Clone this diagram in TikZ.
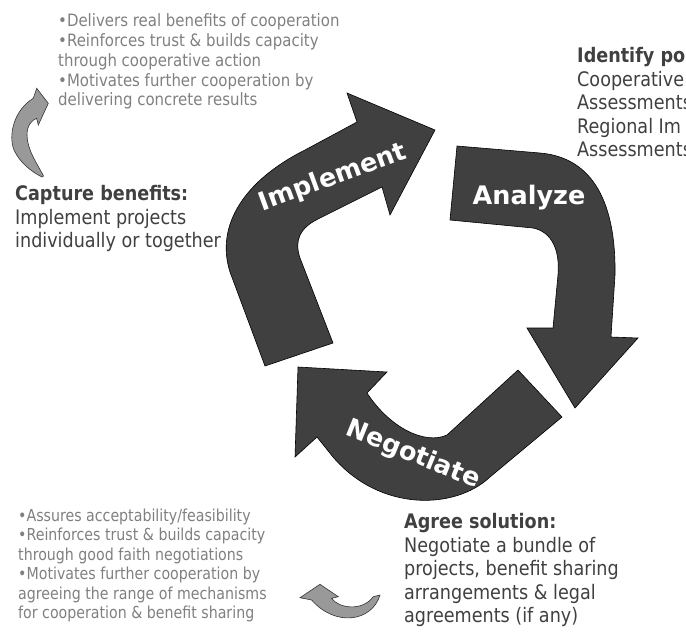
\documentclass[tikz,border=0pt]{standalone}
\usepackage{fontspec}
\setmainfont{DejaVu Sans}
\newfontfamily\fnarrow[FakeStretch=0.88]{DejaVu Sans}
\newfontfamily\fnarrower[FakeStretch=0.86]{DejaVu Sans}
\definecolor{arrowdark}{RGB}{64,64,64}
\definecolor{arrowlight}{RGB}{153,153,153}
\definecolor{txtgray}{RGB}{128,128,128}
\definecolor{txtdark}{RGB}{64,64,64}
\begin{document}
\begin{tikzpicture}[x=1pt,y=-1pt,
  bigarrow/.style={fill=arrowdark,draw=black,line width=0.6pt,line join=miter},
  smallarrow/.style={fill=arrowlight,draw=black!80,line width=0.6pt},
  arrowlabel/.style={text=white,font=\bfseries\fontsize{25.5}{30}\selectfont,inner sep=0},
  graybox/.style={anchor=north west,inner sep=0,align=left,text=txtgray},
  darkbox/.style={anchor=north west,inner sep=0,align=left,text=txtdark,
    font=\fnarrow\fontsize{20}{23.5}\selectfont}]
\useasboundingbox (0,0) rectangle (686,633);

% Implement arrow
\draw[bigarrow] (265,366) -- (230,272) .. controls (215,225) and (245,180) .. (305,150)
  -- (357,122) -- (347,93) -- (435,130) -- (390,215) -- (382,187)
  -- (318,219) .. controls (300,228) and (294,240) .. (300,258) -- (333,343) -- cycle;
% Analyze arrow
\draw[bigarrow] (457,146) -- (540,153) .. controls (600,158) and (616,215) .. (615,275)
  -- (611,337) -- (638,338) -- (575,408) -- (527,328) -- (553,328)
  -- (558,275) .. controls (560,250) and (552,232) .. (533,228) -- (450,220) -- cycle;
% Negotiate arrow
\draw[bigarrow] (562,417) -- (490,477) .. controls (455,510) and (380,512) .. (333,457)
  -- (317,437) -- (295,457) -- (298,367) -- (387,372) -- (367,393)
  .. controls (390,428) and (425,445) .. (447,435) -- (518,370) -- cycle;

\node[arrowlabel,rotate=20] (implbl) at (333,178) {Implement};
\node[arrowlabel] (analbl) at (529,198) {Analyze};
\node[arrowlabel,rotate=-22] (neglbl) at (413,455) {Negotiate};

% small grey arrows
\draw[smallarrow] (48.3,103.3) -- (36.7,88.3) -- (33.3,98.3)
  .. controls (14,110) and (8,135) .. (14,150)
  .. controls (20,163) and (32,172) .. (42,177) -- (43.5,176)
  .. controls (38,165) and (27,150) .. (27,135)
  .. controls (27,125) and (32,120) .. (36.7,118.3) -- (38.3,125) -- cycle;
\draw[smallarrow] (300,597.7) -- (320,584.3) -- (338.3,596.7) -- (331.7,598.3)
  .. controls (338,608) and (362,612) .. (373.3,596.7) -- (380,595)
  .. controls (372,622) and (335,627) .. (311.7,600) -- cycle;

% texts
\node[graybox,font=\fnarrow\fontsize{17}{19.8}\selectfont] (benefits) at (58,13.6)
  {•Delivers real benefits of cooperation\\•Reinforces trust \& builds capacity\\through cooperative action\\•Motivates further cooperation by\\delivering concrete results};
\node[darkbox] (capture) at (15,185.5)
  {\textbf{Capture benefits:}\\Implement projects\\individually or together};
\node[darkbox] (identify) at (577,47.5)
  {\textbf{Identify po}\\Cooperative\\Assessments\\Regional Im\\Assessments};
\node[graybox,font=\fnarrower\fontsize{16.5}{19.5}\selectfont] (assures) at (18,508.5)
  {•Assures acceptability/feasibility\\•Reinforces trust \& builds capacity\\through good faith negotiations\\•Motivates further cooperation by\\agreeing the range of mechanisms\\for cooperation \& benefit sharing};
\node[darkbox] (agree) at (404,513.1)
  {\textbf{Agree solution:}\\Negotiate a bundle of\\projects, benefit sharing\\arrangements \& legal\\agreements (if any)};
\end{tikzpicture}
\end{document}
